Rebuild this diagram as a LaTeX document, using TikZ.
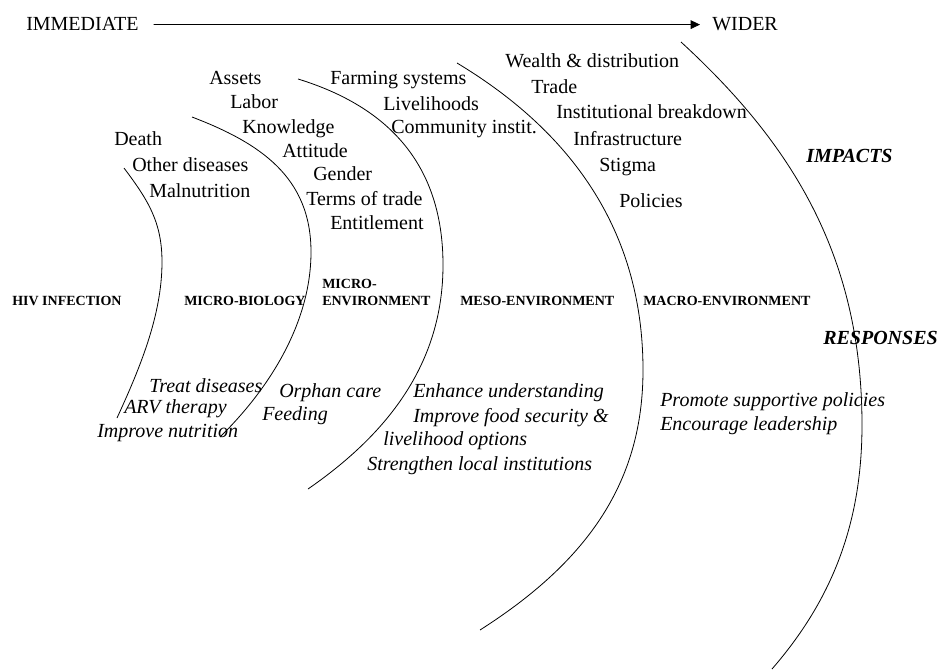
\documentclass[tikz,border=0pt]{standalone}
\usepackage{fontspec}
\setmainfont{Liberation Serif}
\usetikzlibrary{arrows.meta}

\begin{document}
\begin{tikzpicture}[x=0.75pt,y=-0.75pt,
  txt/.style={anchor=base west,inner sep=0pt,font=\fontsize{15}{18}\selectfont},
  resp/.style={anchor=base west,inner sep=0pt,font=\fontsize{15}{18}\selectfont\itshape},
  zone/.style={anchor=base west,inner sep=0pt,font=\fontsize{10.5}{12}\selectfont\bfseries},
  head/.style={anchor=base west,inner sep=0pt,font=\fontsize{15}{18}\selectfont\bfseries\itshape},
  ring/.style={line width=0.6pt}]
  \useasboundingbox (0,0) rectangle (940,671);
  % scale: immediate -> wider
  \node[txt] (imm) at (26,31) {IMMEDIATE};
  \node[txt] (wid) at (712,31) {WIDER};
  \draw[line width=0.6pt,-{Triangle[length=7pt,width=6.5pt]},shorten <=11.25pt,shorten >=9pt] (imm.east) -- (wid.west);
  % rings
  \draw[ring] (124,168) .. controls (148,200) and (162,222) .. (162,262)
                        .. controls (162,315) and (140,368) .. (117,418);
  \draw[ring] (192,117) .. controls (260,143) and (311,177) .. (311,252)
                        .. controls (311,322) and (270,388) .. (220,437);
  \draw[ring] (298,79) .. controls (389,107) and (443,165) .. (443,265)
                       .. controls (443,365) and (386,435) .. (308,489);
  \draw[ring] (457,63) .. controls (560,125) and (643,220) .. (643,370)
                       .. controls (643,480) and (590,560) .. (480,630);
  \draw[ring] (681,42) .. controls (791,143) and (862,255) .. (862,425)
                       .. controls (862,525) and (831,601) .. (772,669);
  % zones
  \foreach \n/\x/\lbl in {hiv/12/HIV INFECTION, mbio/184/MICRO-BIOLOGY, menv/322/ENVIRONMENT, meso/460/MESO-ENVIRONMENT, macro/643/MACRO-ENVIRONMENT}
    \node[zone] (\n) at (\x,305) {\lbl};
  \node[zone] (micro) at (322,288) {MICRO-};
  % impacts
  \foreach \n/\x/\y/\lbl in {death/114/145/Death, othdis/132/171/Other diseases, malnut/149/197/Malnutrition,
    assets/209/84/Assets, labor/230/108/Labor, knowl/242/133/Knowledge, attit/282/157/Attitude,
    gender/313/180/Gender, terms/306/205/Terms of trade, entit/330/229/Entitlement,
    farm/330/84/Farming systems, liveli/383/110/Livelihoods, commun/391/133/Community instit.,
    wealth/505/67/Wealth \& distribution, trade/531/93/Trade, instit/556/118/Institutional breakdown,
    infra/573/145/Infrastructure, stigma/599/171/Stigma, polic/619/207/Policies}
    \node[txt] (\n) at (\x,\y) {\lbl};
  \node[head] (impacts) at (806,162) {IMPACTS};
  % responses
  \foreach \n/\x/\y/\lbl in {treat/149/392/Treat diseases, arv/124/413/ARV therapy, imnut/97/437/Improve nutrition,
    orphan/279/397/Orphan care, feed/262/420/Feeding,
    enh/413/397/Enhance understanding, food/413/422/Improve food security \&, lopt/383/445/livelihood options,
    strength/367/470/Strengthen local institutions,
    promote/660/406/Promote supportive policies, lead/660/430/Encourage leadership}
    \node[resp] (\n) at (\x,\y) {\lbl};
  \node[head] (responses) at (823,344) {RESPONSES};
\end{tikzpicture}
\end{document}
